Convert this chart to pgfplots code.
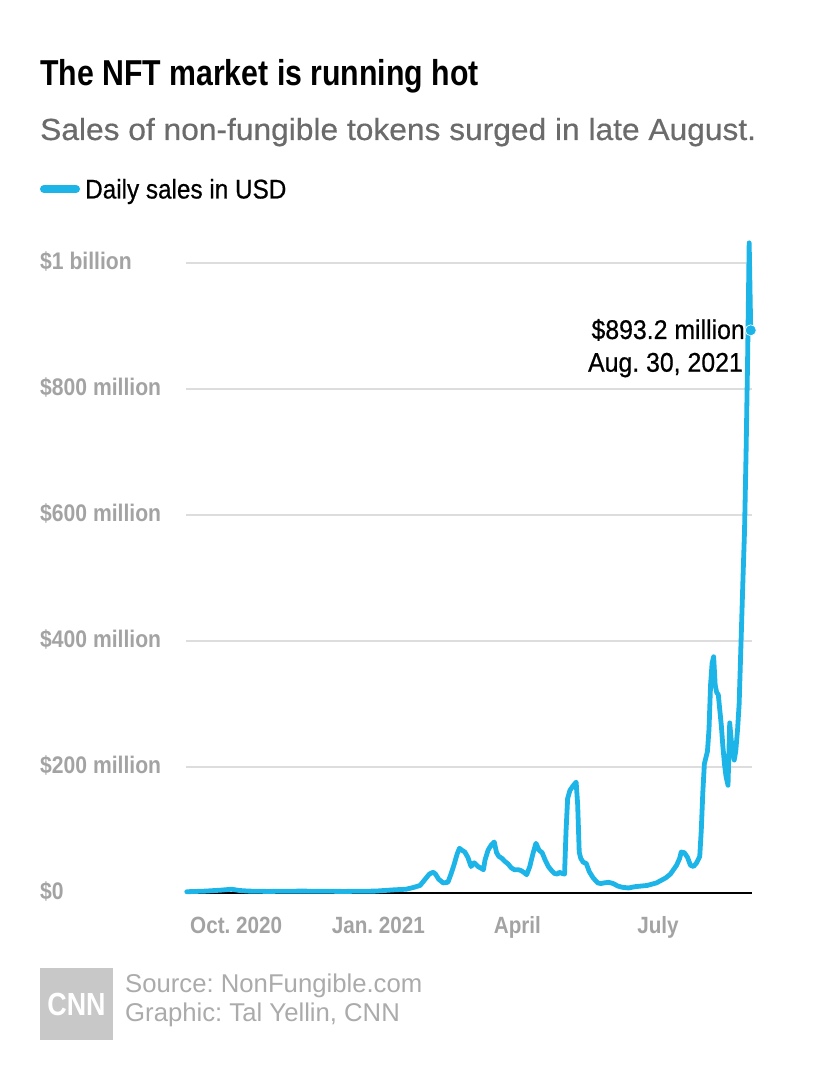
\documentclass[border=0pt]{standalone}
\usepackage{pgfplots}
\pgfplotsset{compat=1.18}
\usepackage{fontspec}
\setmainfont{Liberation Sans}
\newfontfamily\cond[FakeStretch=0.84]{Liberation Sans}
\newfontfamily\condt[FakeStretch=0.88]{Liberation Sans}
\newfontfamily\condmed[FakeStretch=0.9,FakeBold=0.6]{Liberation Sans}
\newfontfamily\condann[FakeStretch=0.92,FakeBold=0.6]{Liberation Sans}
\newfontfamily\subfont[FakeStretch=1.04,FakeBold=0.5]{Liberation Sans}
\definecolor{nftblue}{HTML}{1DB5E8}
\definecolor{tickgray}{HTML}{A3A3A3}
\definecolor{subgray}{HTML}{6B6B6B}
\definecolor{gridgray}{HTML}{DDDDDD}
\definecolor{srcgray}{HTML}{ABABAB}
\definecolor{logogray}{HTML}{C8C8C8}
\frenchspacing
\begin{document}
\begin{tikzpicture}
\fill[white] (0pt,0pt) rectangle (830pt,1090pt);
% titles
\node[anchor=base west,inner sep=0pt,font=\cond\bfseries\fontsize{36}{40}\selectfont,text=black] at (40pt,1004pt) {The NFT market is running hot};
\node[anchor=base west,inner sep=0pt,font=\subfont\fontsize{30.5}{34}\selectfont,text=subgray] at (40pt,950pt) {Sales of non-fungible tokens surged in late August.};
% legend
\draw[nftblue,line width=8pt,line cap=round] (44pt,901pt) -- (76pt,901pt);
\node[anchor=base west,inner sep=0pt,font=\condmed\fontsize{27}{30}\selectfont,text=black] at (85pt,891.5pt) {Daily sales in USD};
\begin{axis}[
  at={(186pt,197pt)}, anchor=south west,
  scale only axis, width=565.5pt, height=630pt,
  xmin=-32.5, xmax=333.5, ymin=0, ymax=1000,
  clip=false,
  axis line style={draw=none},
  major tick length=0pt,
  ytick={0,200,400,600,800,1000},
  yticklabels={\$0,\$200 million,\$400 million,\$600 million,\$800 million,\$1 billion},
  yticklabel style={anchor=base west,inner sep=0pt,xshift=-146pt,yshift=-6.6pt,font=\condt\bfseries\fontsize{24}{26}\selectfont,text=tickgray},
  xtick={0,92,182,273},
  xticklabels={Oct.\ 2020,Jan.\ 2021,April,July},
  xticklabel style={anchor=base,inner sep=0pt,yshift=-40.5pt,font=\condt\bfseries\fontsize{23.5}{26}\selectfont,text=tickgray},
  ymajorgrids, grid style={gridgray,line width=1.5pt},
]
\draw[black,line width=1.8pt] (rel axis cs:0,0) -- (rel axis cs:1,0);
\addplot[nftblue,line width=4.8pt,line join=round,line cap=round] coordinates {
(-32,2) (-20,3) (-10,4.5) (-3,6) (2,4) (8,3) (20,2.5) (42,3) (70,2.5) (90,3)
(102,5) (110,6) (115,9) (119,12) (121,18) (123,24) (125,30) (127.5,33) (129,30)
(131,22) (134,16) (137,17) (139,30) (141,45) (143,62) (144.5,71) (146,68) (148,65)
(150,56) (152,42) (154,48) (156.5,42) (158,40) (160,37) (161,52) (163,68) (165,76)
(167,81) (168.5,64) (170,58) (172,55) (174,50) (176,46) (178,40) (180,37) (182.5,37)
(184,36) (186,33) (188,29) (190,42) (192,62) (194,79) (196,68) (198,64) (200,52)
(202,42) (204,36) (206,31) (208,30) (209,33) (211,31) (212.5,30) (213.5,100)
(214.5,150) (216,163) (218,170) (220,176) (221,140) (222,65) (223,55) (224.5,49)
(226.5,47) (228.5,34) (231,24) (234,16) (236,15) (238,16) (241,17) (244,15) (247,11)
(250,9) (254,8) (258,10) (262,11) (266,12) (269,14) (272,16) (275,20) (278,24)
(281,30) (283,37) (285,44) (287,55) (288,65) (290,64) (292,57) (294,44) (296,42)
(298,48) (300,58) (301,100) (302,160) (303,205) (304,215) (305,225) (306,260)
(307,330) (308,365) (309,375) (310,330) (311,318) (312,315) (313,290) (314,265)
(315,232) (316,205) (317,185) (318.3,171) (319.4,270) (320.5,240) (322.3,211)
(323.3,225) (324.5,260) (325.5,300) (327,420) (328,500) (329,576) (330,700)
(331,850) (332,1032) (333,893.2)
};
\addplot[only marks,mark=*,mark size=5.5pt,nftblue,mark options={draw=white,line width=0.6pt}] coordinates {(333,893.2)};
\end{axis}
% annotation
\node[anchor=base east,inner sep=0pt,font=\condann\fontsize{27}{30}\selectfont,text=black] at (745pt,751pt) {\$893.2 million};
\node[anchor=base east,inner sep=0pt,font=\condann\fontsize{27}{30}\selectfont,text=black] at (743pt,718.3pt) {Aug. 30, 2021};
% footer
\fill[logogray] (40pt,50pt) rectangle (113pt,122pt);
\node[font=\cond\bfseries\fontsize{32}{34}\selectfont,text=white,inner sep=0pt] at (76.5pt,86pt) {CNN};
\node[anchor=base west,inner sep=0pt,font=\fontsize{25.7}{28}\selectfont,text=srcgray] at (125pt,97pt) {Source: NonFungible.com};
\node[anchor=base west,inner sep=0pt,font=\fontsize{25.7}{28}\selectfont,text=srcgray] at (125pt,68pt) {Graphic: Tal Yellin, CNN};
\end{tikzpicture}
\end{document}
